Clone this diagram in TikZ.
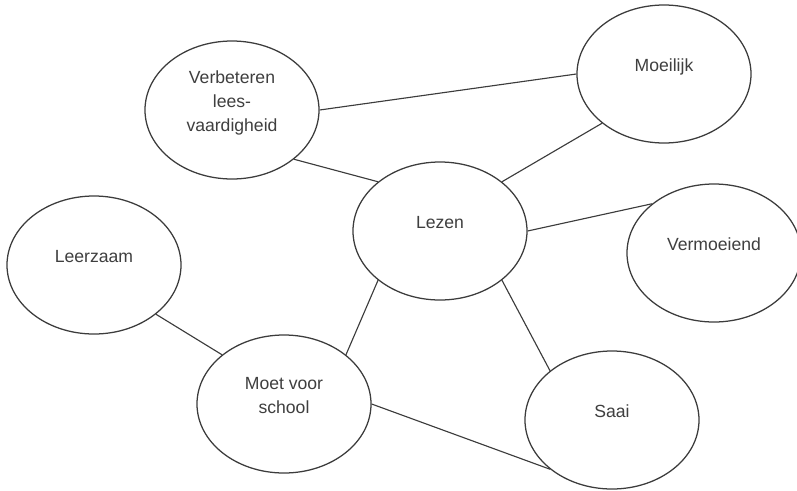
\documentclass[tikz,border=0pt]{standalone}
\usepackage{fontspec}
\setmainfont{Liberation Sans}
\usetikzlibrary{shapes.geometric}
\definecolor{BubbleLine}{HTML}{3C3C3C}
\definecolor{BubbleText}{HTML}{3F3F3F}
\begin{document}
\begin{tikzpicture}[x=0.75pt,y=-0.75pt,font=\fontsize{13.2pt}{18pt}\selectfont,
      bub/.style={ellipse,draw=BubbleLine,fill=white,line width=0.95pt,minimum width=130.5pt,minimum height=103.5pt,inner sep=0pt,align=center,text=BubbleText,text depth=13.5pt},
      ln/.style={draw=BubbleLine,line width=0.85pt}]
      \useasboundingbox (0,0) rectangle (797,490);
      \node[bub] (verb) at (232,110) {Verbeteren\\lees-\\vaardigheid};
      \node[bub] (moei) at (664,74) {Moeilijk};
      \node[bub] (lezen) at (440,231) {Lezen};
      \node[bub] (vermoe) at (714,253) {Vermoeiend};
      \node[bub] (leer) at (94,265) {Leerzaam};
      \node[bub] (moet) at (284,404) {Moet voor\\school};
      \node[bub] (saai) at (612,420) {Saai};
      \draw[ln] (verb.east) -- (moei.west); \draw[ln] (verb.south east) -- (lezen.north west);
      \draw[ln] (lezen.north east) -- (moei.south west); \draw[ln] (lezen.east) -- (vermoe.north west);
      \draw[ln] (lezen.south west) -- (moet.north east); \draw[ln] (lezen.south east) -- (saai.north west);
      \draw[ln] (leer.south east) -- (moet.north west); \draw[ln] (moet.east) -- (saai.south west);
    \end{tikzpicture}
\end{document}
